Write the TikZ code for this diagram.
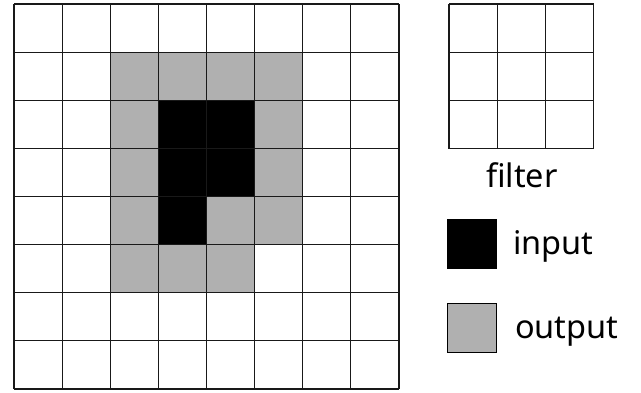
\documentclass[tikz,border=0pt]{standalone}
\usepackage{fontspec}
\setmainfont{Noto Sans}
\usetikzlibrary{positioning}
\definecolor{outgray}{RGB}{176,176,176}

\begin{document}
\begin{tikzpicture}[x=1pt, y=-1pt,
  every node/.style={font=\fontsize{32.5}{38}\selectfont, inner sep=0pt},
  gridline/.style={draw=black!90, line width=1.2pt},
  legendbox/.style={draw=black, line width=1pt, minimum size=49pt},
]
\useasboundingbox (0,0) rectangle (641,393);

% Output cells (gray)
\foreach \c/\r in {2/1,3/1,4/1,5/1,2/2,5/2,2/3,5/3,2/4,4/4,5/4,2/5,3/5,4/5}
  \fill[outgray] ({14+\c*48.125},{4+\r*48.125}) rectangle +(48.125,48.125);

% Input cells (black)
\foreach \c/\r in {3/2,4/2,3/3,4/3,3/4}
  \fill[black] ({14+\c*48.125},{4+\r*48.125}) rectangle +(48.125,48.125);

% 8x8 image grid
\foreach \i in {0,...,8} {
  \draw[gridline] ({14+\i*48.125},4) -- ({14+\i*48.125},389);
  \draw[gridline] (14,{4+\i*48.125}) -- (399,{4+\i*48.125});
}

% 3x3 filter grid
\foreach \i in {0,...,3} {
  \draw[gridline] ({449+\i*48.25},4) -- ({449+\i*48.25},148.75);
  \draw[gridline] (449,{4+\i*48.25}) -- (593.75,{4+\i*48.25});
}
\node[anchor=base] (filterlbl) at (522,188) {filter};

% Legend
\node[legendbox, fill=black] (inbox) at (471.5,244) {};
\node[anchor=base west] (inlbl) at (513,255) {input};
\node[legendbox, fill=outgray] (outbox) at (471.5,328.5) {};
\node[anchor=base west] (outlbl) at (515,339) {output};

\end{tikzpicture}
\end{document}
